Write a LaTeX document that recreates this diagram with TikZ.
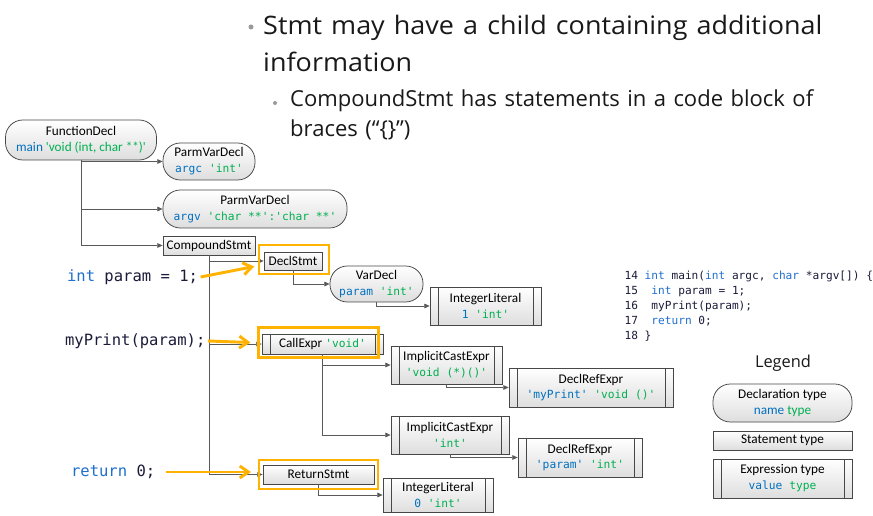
\documentclass[tikz,border=0pt]{standalone}
\usepackage{fontspec}
\setmainfont{Carlito}
\setmonofont{DejaVu Sans Mono}[Scale=0.85]
\newfontfamily\slidefont{Open Sans}[FakeStretch=1.06, WordSpace=1.3]
\newfontfamily\slidefontsub{Open Sans}[WordSpace=1.3]
\usepackage{xcolor}
\usetikzlibrary{positioning, arrows.meta}

\definecolor{nameblue}{HTML}{0070C0}
\definecolor{typegreen}{HTML}{00B050}
\definecolor{hlorange}{HTML}{FFB300}
\definecolor{linkgrey}{HTML}{595959}
\definecolor{codeblue}{HTML}{1F6FCF}
\definecolor{codedark}{HTML}{1B1B3A}
\definecolor{bulletgrey}{HTML}{9A9A9A}

\newcommand{\nm}[1]{\textcolor{nameblue}{#1}}
\newcommand{\ty}[1]{\textcolor{typegreen}{#1}}

\begin{document}
\begin{tikzpicture}[
    x=0.03cm, y=-0.03cm,
    box/.style={draw=black!72, line width=0.65pt, top color=white, bottom color=black!13,
                inner sep=1pt, align=center, font=\fontsize{11.3}{13.5}\selectfont},
    decl/.style={box, rectangle, rounded corners=0.52cm},
    stmt/.style={box, rectangle},
    expr/.style={box, rectangle, path picture={
        \draw[black!72, line width=0.65pt]
          ([xshift=0.24cm]path picture bounding box.north west) -- ([xshift=0.24cm]path picture bounding box.south west)
          ([xshift=-0.24cm]path picture bounding box.north east) -- ([xshift=-0.24cm]path picture bounding box.south east);}},
    boxsize/.style 2 args={minimum width=#1*0.03cm, minimum height=#2*0.03cm},
    hlbox/.style={draw=hlorange, line width=2.3pt, inner sep=0pt},
    link/.style={draw=linkgrey, line width=0.6pt, -{Triangle[length=1.6mm, width=1.4mm]}},
    hlarrow/.style={draw=hlorange, line width=2.5pt, -{Straight Barb[length=2.6mm, width=3.6mm]}},
    code/.style={font=\ttfamily\fontsize{15.6}{18}\selectfont, text=codedark, inner sep=2pt},
    head1/.style={font=\slidefont\fontsize{21.7}{24}\selectfont, text=black!90, inner sep=0pt},
    head2/.style={font=\slidefontsub\fontsize{18.8}{22}\selectfont, text=black!90, inner sep=0pt}
]
\path[use as bounding box, fill=white] (0,0) rectangle (873,516);

% slide text
\fill[bulletgrey] (251,27) circle (0.075cm);
\node[head1, anchor=base west] (h1a) at (263,35) {Stmt may have a child containing additional};
\node[head1, anchor=base west] (h1b) at (263,72) {information};
\fill[bulletgrey] (275,103) circle (0.06cm);
\node[head2, anchor=base west] (h2a) at (290,107) {CompoundStmt has statements in a code block of};
\node[head2, anchor=base west] (h2b) at (290,137) {braces (“\{\}”)};

% AST nodes
\node[decl, boxsize={151}{40}] (fdecl) at (81,140) {FunctionDecl\\\nm{main} \ty{\textquotesingle void (int, char **)\textquotesingle}};
\node[decl, boxsize={92}{37}] (argc) at (209,161.5) {ParmVarDecl\\\texttt{\nm{argc} \ty{'int'}}};
\node[decl, boxsize={184}{38}] (argv) at (255,209) {ParmVarDecl\\\texttt{\nm{argv} \ty{'char **':'char **'}}};
\node[stmt, boxsize={92}{19}] (cstmt) at (209,245.5) {CompoundStmt};
\node[stmt, boxsize={58}{18}] (declstmt) at (293,261) {DeclStmt};
\node[decl, boxsize={93}{36}] (vardecl) at (376.5,284) {VarDecl\\\texttt{\nm{param} \ty{'int'}}};
\node[expr, boxsize={111}{38}] (intlit1) at (485.5,306) {IntegerLiteral\\\texttt{\nm{1} \ty{'int'}}};
\node[expr, boxsize={121}{20}] (callexpr) at (322.5,344) {CallExpr \texttt{\ty{'void'}}};
\node[expr, boxsize={111}{38}] (ice1) at (446.5,365) {ImplicitCastExpr\\\texttt{\ty{'void (*)()'}}};
\node[expr, boxsize={164}{39}] (dre1) at (591,387.5) {DeclRefExpr\\\texttt{\nm{'myPrint'} \ty{'void ()'}}};
\node[expr, boxsize={118}{38}] (ice2) at (450,435) {ImplicitCastExpr\\\texttt{\ty{'int'}}};
\node[expr, boxsize={124}{39}] (dre2) at (580,457.5) {DeclRefExpr\\\texttt{\nm{'param'} \ty{'int'}}};
\node[stmt, boxsize={111}{19}] (retstmt) at (318.5,474.5) {ReturnStmt};
\node[expr, boxsize={110}{34}] (intlit0) at (438,495) {IntegerLiteral\\\texttt{\nm{0} \ty{'int'}}};

% parent -> child
\foreach \p/\c in {fdecl/argc, fdecl/argv, fdecl/cstmt, cstmt/declstmt, cstmt/callexpr, cstmt/retstmt,
                   declstmt/vardecl, vardecl/intlit1, callexpr/ice1, callexpr/ice2,
                   ice1/dre1, ice2/dre2, retstmt/intlit0} {
    \draw[link] (\p.south) |- (\c.west);
}

% highlighted statements
\node[hlbox, boxsize={70}{29}] (hldecl) at (294,259.5) {};
\node[hlbox, boxsize={120}{30}] (hlcall) at (318.5,342.5) {};
\node[hlbox, boxsize={119}{29}] (hlret) at (318.5,474.5) {};

% source lines
\node[code, anchor=west] (code1) at (64.5,277) {\textcolor{codeblue}{int} param = 1;};
\node[code, anchor=west] (code2) at (62.5,341) {myPrint(param);};
\node[code, anchor=west] (code3) at (68.5,472) {\textcolor{codeblue}{return} 0;};

\draw[hlarrow] (code1.east) -- ([xshift=-0.1cm, yshift=-0.21cm]hldecl.west);
\draw[hlarrow] (code2.east) -- ([xshift=-0.2cm]hlcall.west);
\draw[hlarrow, shorten <=0.25cm, shorten >=0.2cm] (code3.east) -- (code3.east -| hlret.west);

% listing
\node[code, font=\ttfamily\fontsize{11.2}{12.8}\selectfont, anchor=north west, align=left] (listing) at (622,268)
  {14 \textcolor{codeblue}{int} main(\textcolor{codeblue}{int} argc, \textcolor{codeblue}{char} *argv[]) \{\\
   15~~\textcolor{codeblue}{int} param = 1;\\
   16~~myPrint(param);\\
   17~~\textcolor{codeblue}{return} 0;\\
   18 \}};

% legend
\node[font=\slidefontsub\fontsize{14}{16}\selectfont, text=black!90] (legend) at (783,363) {Legend};
\node[decl, boxsize={139}{38}] (lgdecl) at (782.5,403) {Declaration type\\\nm{name} \ty{type}};
\node[stmt, boxsize={139}{19}] (lgstmt) at (782.5,440.5) {Statement type};
\node[expr, boxsize={139}{39}] (lgexpr) at (782.5,478.5) {Expression type\\\texttt{\nm{value} \ty{type}}};

\end{tikzpicture}
\end{document}
